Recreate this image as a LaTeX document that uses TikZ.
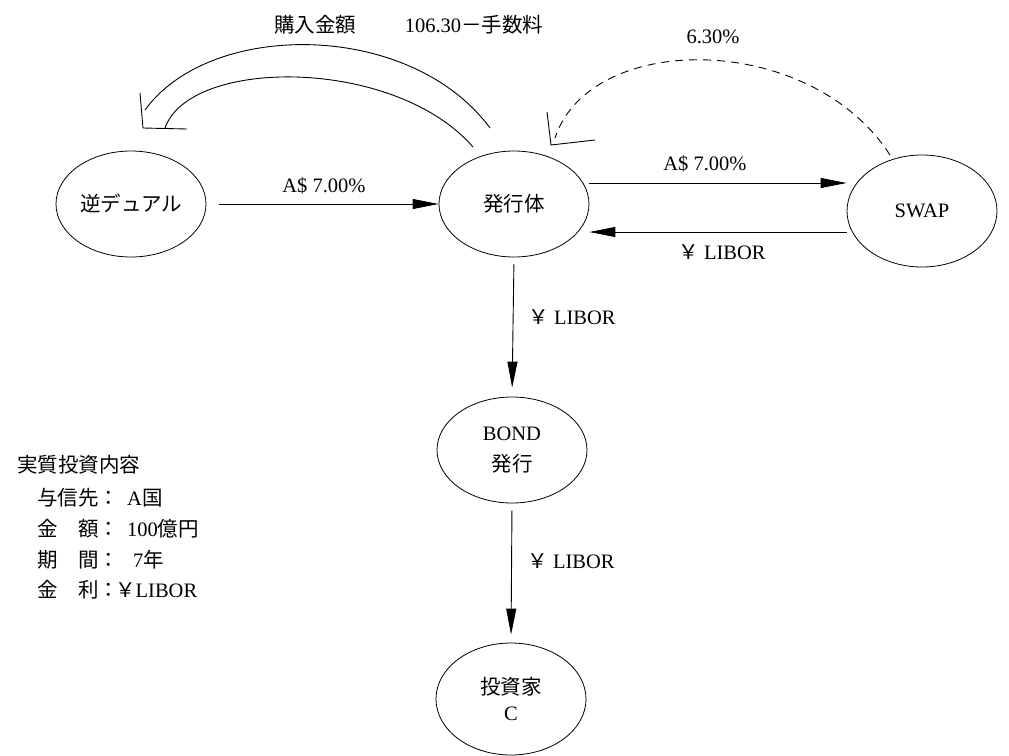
\documentclass[tikz,border=0pt]{standalone}
\usepackage{fontspec}
\setmainfont{Liberation Serif}
\newfontfamily\jp{Noto Sans CJK JP}
\usetikzlibrary{shapes.geometric,arrows.meta}
\begin{document}
\begin{tikzpicture}[x=1pt,y=-1pt,
  every node/.style={font=\fontsize{20.5}{24}\selectfont},
  ent/.style={draw, ellipse, line width=0.8pt, minimum width=150pt, minimum height=106pt, inner sep=0pt, align=center},
  flow/.style={draw, line width=0.9pt, -{Triangle[length=26pt,width=10pt]}},
  thin/.style={line width=0.9pt},
  lbl/.style={inner sep=0pt}]
\useasboundingbox (0,0) rectangle (1009,755);
% entities
\node[ent] (dual) at (131,204) {{\jp 逆デュアル}};
\node[ent] (iss) at (514,204) {{\jp 発行体}};
\node[ent, minimum height=112pt] (swap) at (922,211) {SWAP};
\node[ent] (bond) at (512,450) {BOND\\[7pt]{\jp 発行}};
\node[ent, minimum height=112pt] (inv) at (511,699) {{\jp 投資家}\\[2pt]C};
% straight flows
\draw[flow, shorten <=13pt] (dual.east) -- (iss.west);
\draw[flow] ([yshift=21pt]iss.east) -- ([yshift=28pt]swap.west);
\draw[flow] ([yshift=-21pt]swap.west) -- ([yshift=-28pt]iss.east);
\draw[flow, shorten <=7pt, shorten >=9pt] (iss.south) -- (bond.north);
\draw[flow, shorten <=7pt, shorten >=8pt] (bond.south) -- (inv.north);
% purchase amount hollow arc
\draw[thin] (490,128) .. controls (410,20) and (210,20) .. (145,110);
\draw[thin] (473,147) .. controls (395,57) and (190,57) .. (165,128);
\draw[thin] (140,93) -- (143,128) -- (187,129);
% dashed arc 6.30%
\draw[thin, dash pattern=on 8pt off 6pt] (890,155) .. controls (810,31) and (590,31) .. (555,138);
\draw[thin] (547,112) -- (551,145) -- (595,140);
% labels
\node[lbl] (l1) at (315,25) {{\jp 購入金額}};
\node[lbl] (l2) at (474,25) {106.30{\jp －手数料}};
\node[lbl] (l3) at (713,37) {6.30\%};
\node[lbl] (l4) at (324,186) {A\$ 7.00\%};
\node[lbl] (l5) at (705,164) {A\$ 7.00\%};
\node[lbl] (l6) at (722,252) {{\jp ￥} LIBOR};
\node[lbl] (l7) at (572,317) {{\jp ￥} LIBOR};
\node[lbl] (l8) at (571,561) {{\jp ￥} LIBOR};
% left text block
\node[lbl, anchor=west] (t0) at (17,465) {{\jp 実質投資内容}};
\node[lbl, anchor=west] (k1) at (37,498) {{\jp 与信先：}};
\node[lbl, anchor=west] (v1) at (127,498) {A{\jp 国}};
\node[lbl, anchor=west] (k2) at (37,529) {{\jp 金　額：}};
\node[lbl, anchor=west] (v2) at (127,529) {100{\jp 億円}};
\node[lbl, anchor=west] (k3) at (37,560) {{\jp 期　間：}};
\node[lbl, anchor=west] (v3) at (133,560) {7{\jp 年}};
\node[lbl, anchor=west] (k4) at (37,590) {{\jp 金　利：}};
\node[lbl, anchor=west] (v4) at (115,590) {{\jp ￥}LIBOR};
\end{tikzpicture}
\end{document}
